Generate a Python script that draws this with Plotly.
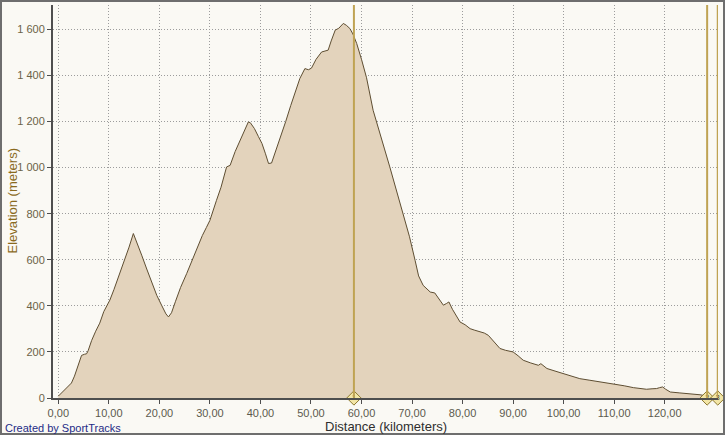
import plotly.graph_objects as go

distance_km = [0.0, 1.0, 2.0, 2.6, 3.2, 4.0, 4.6, 5.2, 5.6, 5.9, 6.6, 7.4, 8.2, 9.0, 10.2, 11.0, 12.0, 13.0,
               14.0, 14.85, 15.5, 16.5, 17.5, 18.5, 19.5, 20.5, 21.3, 21.8, 22.4, 23.2, 24.2, 25.4, 26.5,
               27.5, 28.5, 29.3, 30.0, 31.3, 32.2, 33.3, 34.0, 35.0, 36.0, 36.8, 37.6, 38.0, 38.8, 39.6,
               40.3, 41.0, 41.6, 42.2, 43.0, 43.9, 45.0, 46.0, 47.0, 47.8, 48.8, 49.5, 50.1, 51.0, 52.1,
               53.4, 54.0, 54.8, 55.5, 56.4, 57.0, 57.7, 58.3, 59.05, 60.0, 61.0, 62.3, 63.5, 64.5, 65.6,
               67.0, 68.6, 69.5, 70.6, 71.3, 72.2, 73.0, 73.6, 74.5, 75.3, 76.2, 76.8, 77.3, 78.0, 79.0,
               79.5, 80.5, 81.5, 82.3, 83.4, 84.3, 85.1, 86.0, 87.4, 88.5, 90.0, 91.0, 92.0, 93.5, 95.0,
               95.5, 96.7, 98.3, 99.9, 101.5, 103.2, 105.2, 107.2, 108.7, 110.2, 112.0, 113.8, 115.0,
               116.4, 117.5, 118.4, 119.0, 119.6, 120.2, 121.1, 123.0, 125.4, 127.0, 128.3]
elevation_m = [8, 30, 50, 65, 95, 150, 185, 190, 192, 205, 250, 290, 325, 375, 425, 470, 530, 590,
               655, 714, 680, 620, 560, 500, 445, 400, 365, 352, 370, 420, 480, 540, 600,
               655, 705, 740, 771, 858, 915, 1003, 1010, 1070, 1119, 1160, 1198, 1195, 1170, 1135,
               1105, 1060, 1018, 1020, 1070, 1133, 1200, 1270, 1335, 1387, 1430, 1425, 1432, 1470, 1502,
               1510, 1550, 1597, 1605, 1626, 1618, 1604, 1580, 1539, 1470, 1390, 1249, 1155, 1085, 1003,
               895, 771, 700, 598, 530, 489, 470, 460, 456, 430, 403, 410, 417, 385, 345,
               330, 318, 301, 295, 287, 282, 272, 250, 215, 207, 200, 183, 164, 152, 142,
               149, 128, 117, 106, 95, 84, 77, 70, 66, 62.5, 53, 45, 42,
               38, 40, 41, 45, 48, 38, 26, 22, 19, 14, 9]

x_tick_vals = [0, 10, 20, 30, 40, 50, 60, 70, 80, 90, 100, 110, 120]
x_tick_text = ["0,00", "10,00", "20,00", "30,00", "40,00", "50,00", "60,00", "70,00", "80,00",
               "90,00", "100,00", "110,00", "120,00"]
y_tick_vals = [0, 200, 400, 600, 800, 1000, 1200, 1400, 1600]
y_tick_text = ["0", "200", "400", "600", "800", "1 000", "1 200", "1 400", "1 600"]

marker_km = [58.5, 128.4, 130.5]
marker_labels = ["1", "2", "3"]

W, H = 725, 435
ML, MR, MT, MB = 53, 7, 5, 37
PW, PH = W - ML - MR, H - MT - MB

font_family = "Liberation Sans, Arial, sans-serif"

fig = go.Figure()
fig.add_trace(go.Scatter(
    x=distance_km, y=elevation_m, mode="lines",
    line=dict(color="#5E4E32", width=1),
    fill="tozeroy", fillcolor="#E3D3BC",
    hoverinfo="skip", showlegend=False,
))

shapes = []
for xv in marker_km:
    shapes.append(dict(type="line", xref="x", yref="paper", x0=xv, x1=xv, y0=0, y1=1,
                       line=dict(color="#BFA353", width=2), layer="above"))
# outer frame
shapes.append(dict(type="rect", xref="paper", yref="paper",
                   x0=-(ML - 1) / PW, x1=1 + (MR - 1) / PW,
                   y0=-(MB - 1) / PH, y1=1 + (MT - 1) / PH,
                   line=dict(color="#6E6E6E", width=2), layer="above"))

fig.add_trace(go.Scatter(
    x=marker_km, y=[0, 0, 0], mode="markers+text",
    marker=dict(symbol="diamond", size=11, color="#F3E6A6",
                line=dict(color="#8C7830", width=1)),
    text=marker_labels, textposition="middle center",
    textfont=dict(size=7, color="#333333", family=font_family),
    cliponaxis=False, hoverinfo="skip", showlegend=False,
))

grid_dash = "1px,2px"

fig.update_layout(
    width=W, height=H,
    margin=dict(l=ML, r=MR, t=MT, b=MB, pad=0, autoexpand=False),
    paper_bgcolor="#FAF9F4", plot_bgcolor="#FAF9F4",
    font=dict(family=font_family, size=11, color="#6B6347"),
    shapes=shapes,
    xaxis=dict(range=[-1.05, 130.55], tickvals=x_tick_vals, ticktext=x_tick_text,
               showgrid=True, gridcolor="#9C9C9C", griddash=grid_dash, gridwidth=1,
               showline=True, linecolor="#4E4E4E", linewidth=2,
               ticks="outside", ticklen=4, tickcolor="#4E4E4E",
               zeroline=False, fixedrange=True,
               tickfont=dict(size=11, color="#5C5A4E")),
    yaxis=dict(range=[0, 1706], tickvals=y_tick_vals, ticktext=y_tick_text,
               showgrid=True, gridcolor="#9C9C9C", griddash=grid_dash, gridwidth=1,
               showline=True, linecolor="#4E4E4E", linewidth=2,
               ticks="outside", ticklen=4, tickcolor="#4E4E4E",
               zeroline=False, fixedrange=True,
               tickfont=dict(size=11, color="#6B6347")),
    annotations=[
        dict(text="Distance (kilometers)", xref="paper", yref="paper",
             x=0.5, y=-(426 - MT - PH) / PH, xanchor="center", yanchor="middle",
             showarrow=False, font=dict(size=13, color="#2E2E2E", family=font_family)),
        dict(text="Elevation (meters)", xref="paper", yref="paper",
             x=-(ML - 12) / PW, y=0.5, xanchor="center", yanchor="middle", textangle=-90,
             showarrow=False, font=dict(size=13, color="#8A6A1E", family=font_family)),
        dict(text="Created by SportTracks", xref="paper", yref="paper",
             x=-(ML - 3) / PW, y=-(428 - MT - PH) / PH, xanchor="left", yanchor="middle",
             showarrow=False, font=dict(size=11, color="#1E2C86", family=font_family)),
    ],
)

fig.write_html("out.html", config={"displayModeBar": False},
               post_script="document.body.style.margin='0';document.body.style.overflow='hidden';")
